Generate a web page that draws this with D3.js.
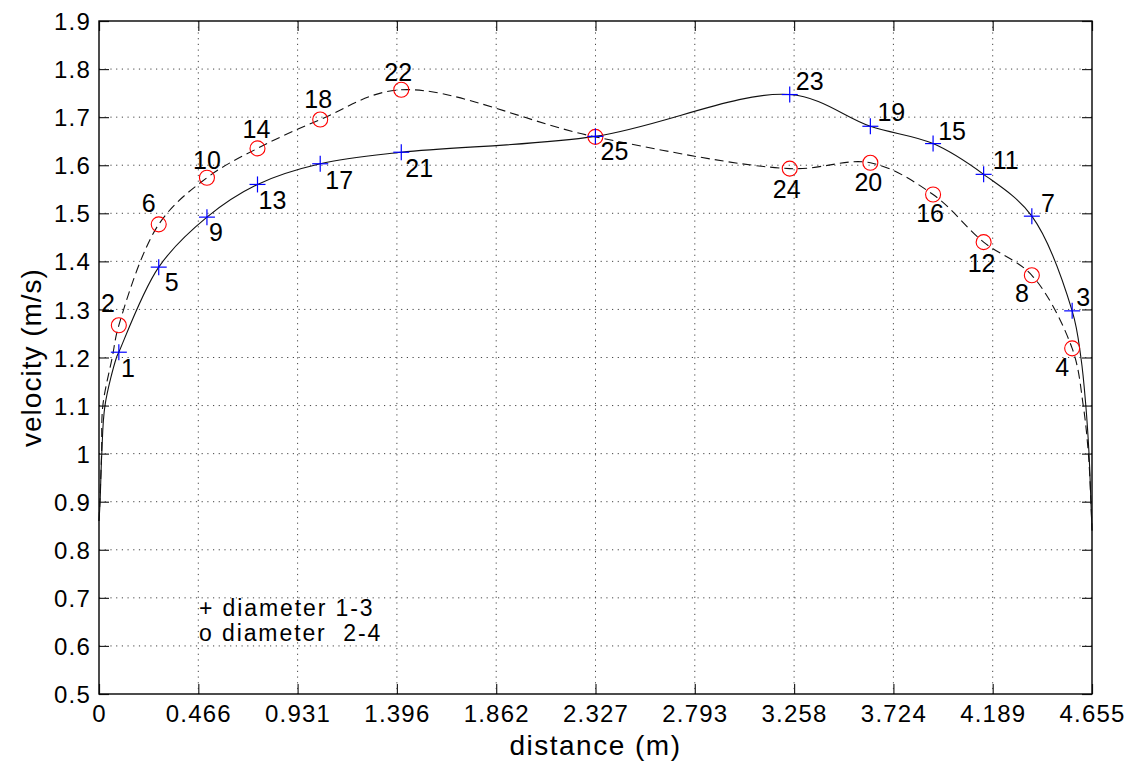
<!DOCTYPE html>
<html>
<head>
<meta charset="utf-8">
<script src="https://cdn.jsdelivr.net/npm/d3@7"></script>
<style>
  body { margin: 0; background: #fff; }
  svg { display: block; font-family: "Liberation Sans", Arial, sans-serif; }
  .grid line { stroke: #444; stroke-dasharray: 1.2, 4.5; stroke-width: 1; }
  .axis path { display: none; }
  .axis line { stroke: #222; stroke-width: 1.2; }
  .axis text { font-size: 24px; letter-spacing: 1.2px; fill: #000; font-family: "Liberation Sans", Arial, sans-serif; }
</style>
</head>
<body>
<svg width="1130" height="764"></svg>
<script>
// measuring stations along the diameter (m), same for both diameters
const stations = [0.093, 0.280, 0.506, 0.743, 1.037, 1.417, 2.327, 3.238, 3.616, 3.910, 4.147, 4.373, 4.562];

// diameter 1-3 (+)
const plusVelocity = [1.211, 1.388, 1.492, 1.560, 1.603, 1.627, 1.660, 1.747, 1.681, 1.645, 1.581, 1.494, 1.297];
const plusLabels = [1, 5, 9, 13, 17, 21, 25, 23, 19, 15, 11, 7, 3];

// diameter 2-4 (o)
const circleVelocity = [1.267, 1.477, 1.574, 1.635, 1.695, 1.757, 1.659, 1.593, 1.605, 1.539, 1.440, 1.371, 1.219];
const circleLabels = [2, 6, 10, 14, 18, 22, null, 24, 20, 16, 12, 8, 4];

// curve near the walls
const solidWallLeft = [[0, 0.86], [0.005, 0.9], [0.013, 1.0], [0.028, 1.1], [0.082, 1.2]];
const solidWallRight = [[4.603, 1.2], [4.626, 1.1], [4.641, 1.0], [4.650, 0.9], [4.655, 0.84]];
const dashWallLeft = [[0, 0.86], [0.004, 0.9], [0.012, 1.0], [0.018, 1.1], [0.062, 1.2]];
const dashWallRight = [[4.614, 1.1], [4.638, 1.0], [4.650, 0.9], [4.655, 0.84]];

// ticks
const xTicks = [0, 0.4655, 0.931, 1.3965, 1.862, 2.3275, 2.793, 3.2585, 3.724, 4.1895, 4.655];
const xTickLabels = ["0", "0.466", "0.931", "1.396", "1.862", "2.327", "2.793", "3.258", "3.724", "4.189", "4.655"];
const yTicks = [0.5, 0.6, 0.7, 0.8, 0.9, 1.0, 1.1, 1.2, 1.3, 1.4, 1.5, 1.6, 1.7, 1.8, 1.9];
const yTickLabels = ["0.5", "0.6", "0.7", "0.8", "0.9", "1", "1.1", "1.2", "1.3", "1.4", "1.5", "1.6", "1.7", "1.8", "1.9"];

// label offsets in px (layout only)
const plusOffsets = [[9, 16], [13, 15], [9, 15], [15, 16], [19, 16], [18, 16], [19, 15], [20, -14], [21, -14], [19, -13], [22, -14], [16, -13], [11, -14]];
const circleOffsets = [[-11, -22], [-10, -21], [0, -18], [-1, -19], [-2, -21], [-3, -18], null, [-3, 20], [-2, 19], [-3, 18], [-2, 21], [-10, 18], [-10, 19]];

const svg = d3.select('svg');
const pLeft = 99, pRight = 1092, pTop = 21, pBottom = 694;

const x = d3.scaleLinear().domain([0, 4.655]).range([pLeft, pRight]);
const y = d3.scaleLinear().domain([0.5, 1.9]).range([pBottom, pTop]);

// grid
const grid = svg.append('g').attr('class', 'grid');
grid.selectAll('.gx').data(xTicks.slice(1, -1)).enter().append('line')
  .attr('x1', d => x(d)).attr('x2', d => x(d)).attr('y1', pTop).attr('y2', pBottom);
grid.selectAll('.gy').data(yTicks.slice(1, -1)).enter().append('line')
  .attr('y1', d => y(d)).attr('y2', d => y(d)).attr('x1', pLeft).attr('x2', pRight);

// axes, ticks pointing inward
svg.append('g').attr('class', 'axis')
  .attr('transform', `translate(0,${pBottom})`)
  .call(d3.axisBottom(x).tickValues(xTicks).tickFormat((d, i) => xTickLabels[i])
    .tickSizeInner(-10).tickSizeOuter(0).tickPadding(11));
svg.append('g').attr('class', 'axis')
  .attr('transform', `translate(0,${pTop})`)
  .call(d3.axisTop(x).tickValues(xTicks).tickFormat('').tickSizeInner(-10).tickSizeOuter(0));
const yAxisG = svg.append('g').attr('class', 'axis')
  .attr('transform', `translate(${pLeft},0)`)
  .call(d3.axisLeft(y).tickValues(yTicks).tickFormat((d, i) => yTickLabels[i])
    .tickSizeInner(-10).tickSizeOuter(0).tickPadding(8));
svg.append('g').attr('class', 'axis')
  .attr('transform', `translate(${pRight},0)`)
  .call(d3.axisRight(y).tickValues(yTicks).tickFormat('').tickSizeInner(-10).tickSizeOuter(0));

yAxisG.selectAll('text').attr('dy', '0.36em');

// frame
svg.append('rect')
  .attr('x', pLeft).attr('y', pTop)
  .attr('width', pRight - pLeft).attr('height', pBottom - pTop)
  .attr('fill', 'none').attr('stroke', '#000').attr('stroke-width', 1.4);

// curves
const line = d3.line()
  .x(d => x(d[0])).y(d => y(d[1]))
  .curve(d3.curveCatmullRom.alpha(0.5));

const plusPts = stations.map((s, i) => [s, plusVelocity[i]]);
const circlePts = stations.map((s, i) => [s, circleVelocity[i]]);

svg.append('path')
  .datum(solidWallLeft.concat(plusPts, solidWallRight))
  .attr('d', line)
  .attr('fill', 'none').attr('stroke', '#111').attr('stroke-width', 1.1);

svg.append('path')
  .datum(dashWallLeft.concat(circlePts, dashWallRight))
  .attr('d', line)
  .attr('fill', 'none').attr('stroke', '#111').attr('stroke-width', 1.1)
  .attr('stroke-dasharray', '9,5');

// markers
svg.selectAll('.circ').data(circlePts).enter().append('circle')
  .attr('cx', d => x(d[0])).attr('cy', d => y(d[1])).attr('r', 7.5)
  .attr('fill', 'none').attr('stroke', '#ff0000').attr('stroke-width', 1.1);

const plus = svg.selectAll('.plus').data(plusPts).enter().append('g')
  .attr('transform', d => `translate(${x(d[0])},${y(d[1])})`);
plus.append('line').attr('x1', -8).attr('x2', 8).attr('stroke', '#0000ff').attr('stroke-width', 1.2);
plus.append('line').attr('y1', -8).attr('y2', 8).attr('stroke', '#0000ff').attr('stroke-width', 1.2);

// point numbers
function addLabels(pts, labels, offsets) {
  pts.forEach((p, i) => {
    if (labels[i] === null) return;
    svg.append('text')
      .attr('x', x(p[0]) + offsets[i][0])
      .attr('y', y(p[1]) + offsets[i][1])
      .attr('text-anchor', 'middle')
      .attr('dy', '0.36em')
      .style('font-size', '25px')
      .text(labels[i]);
  });
}
addLabels(plusPts, plusLabels, plusOffsets);
addLabels(circlePts, circleLabels, circleOffsets);

// legend text
svg.append('text')
  .attr('x', 199).attr('y', 616)
  .style('font-size', '23px').style('letter-spacing', '1.9px')
  .style('white-space', 'pre')
  .text('+ diameter 1-3');
svg.append('text')
  .attr('x', 199).attr('y', 641)
  .style('font-size', '23px').style('letter-spacing', '1.9px')
  .style('white-space', 'pre')
  .text('o diameter  2-4');

// axis titles
svg.append('text')
  .attr('x', (pLeft + pRight) / 2).attr('y', 755)
  .attr('text-anchor', 'middle')
  .style('font-size', '28px').style('letter-spacing', '1.5px')
  .text('distance (m)');
svg.append('text')
  .attr('transform', `translate(41,${(pTop + pBottom) / 2}) rotate(-90)`)
  .attr('text-anchor', 'middle')
  .style('font-size', '28px').style('letter-spacing', '1px')
  .text('velocity (m/s)');
</script>
</body>
</html>
